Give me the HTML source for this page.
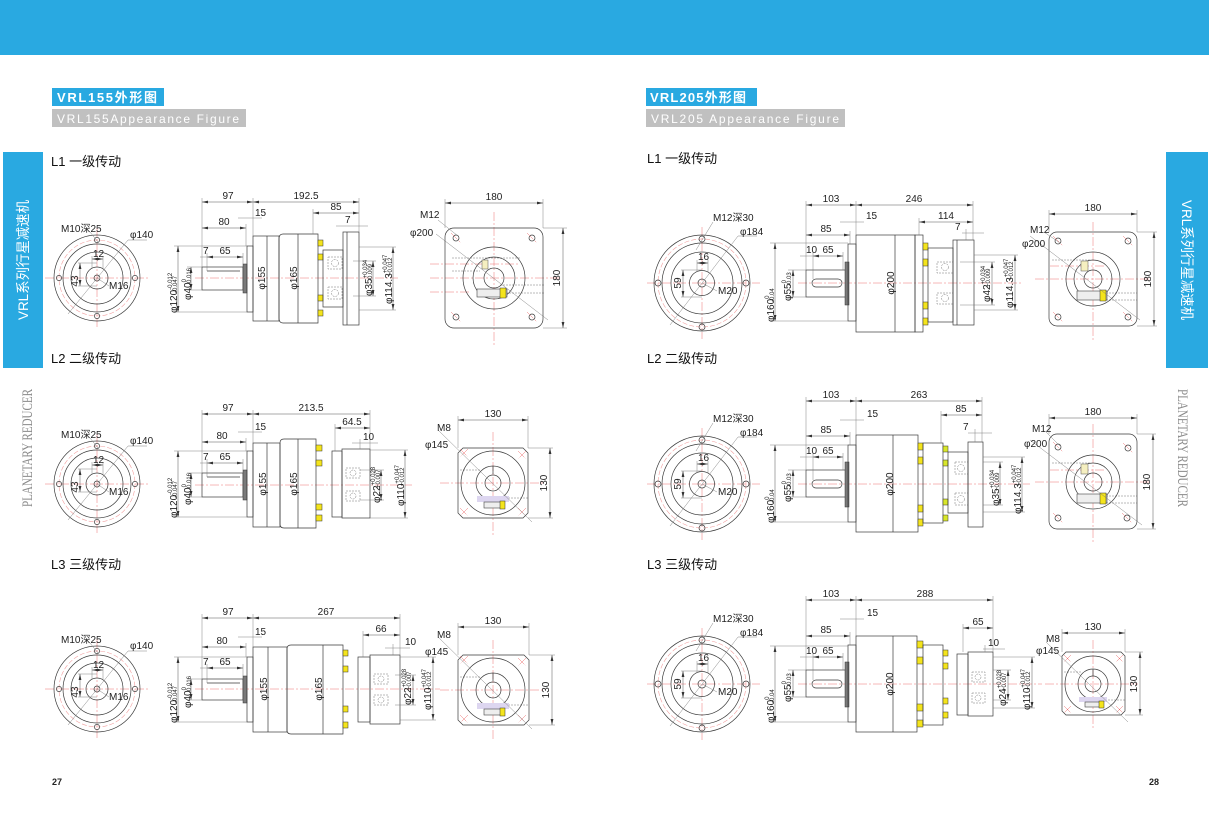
<!DOCTYPE html>
<html><head><meta charset="utf-8"><style>
html,body{margin:0;padding:0;background:#fff;}
svg{display:block;}
.l{stroke:#3a3a3a;stroke-width:.7;fill:none}
.g{stroke:#777;stroke-width:.5;fill:none;stroke-dasharray:2 1}
.dk{fill:#7a7a7a;stroke:#333;stroke-width:.5}
.y{fill:#f4e41c;stroke:#333;stroke-width:.5}
.y2{fill:#d8e62a;stroke:#333;stroke-width:.5}
.rc{stroke:#ee7070;stroke-width:.5;fill:none;stroke-dasharray:9 2 2 2}
.rp{stroke:#f2a0a0;stroke-width:.6;fill:none;stroke-dasharray:5 2}
.e{stroke:#777;stroke-width:.45;fill:none}
.d{stroke:#555;stroke-width:.5;fill:none;marker-start:url(#ar);marker-end:url(#ar)}
.t{font-family:"Liberation Sans Narrow","Liberation Sans","Noto Sans CJK SC",sans-serif;font-size:10px;fill:#222}
.c{text-anchor:middle}
.s{font-size:6px}
</style></head><body>
<svg width="1209" height="826" viewBox="0 0 1209 826" xmlns="http://www.w3.org/2000/svg">
<defs>
<marker id="ar" markerWidth="6" markerHeight="4" refX="6" refY="2" orient="auto-start-reverse" markerUnits="userSpaceOnUse"><path d="M0,0.6L6,2L0,3.4Z" fill="#333"/></marker>
<g id="cL">
<line class="rc" x1="-52" y1="0" x2="53" y2="0"/><line class="rc" x1="0" y1="-50" x2="0" y2="50"/>
<circle class="l" r="43"/><circle class="rp" r="38"/><circle class="l" r="34"/><circle class="l" r="26"/><circle class="l" r="11"/><circle class="l" r="3"/>
<circle class="l" cx="0" cy="-38" r="2.6"/><circle class="l" cx="0" cy="38" r="2.6"/><circle class="l" cx="-38" cy="0" r="2.6"/><circle class="l" cx="38" cy="0" r="2.6"/>
<line class="e" x1="-29" y1="36" x2="31" y2="-38"/><line class="e" x1="31" y1="-38" x2="50" y2="-38"/>
<line class="e" x1="-7" y1="-46" x2="1" y2="-36"/>
<line class="e" x1="0" y1="0" x2="12" y2="8"/>
<line class="e" x1="-5" y1="-22" x2="-5" y2="-10"/><line class="e" x1="6" y1="-22" x2="6" y2="-10"/>
<line class="d" x1="-5" y1="-19" x2="6" y2="-19"/>
<line class="e" x1="-19" y1="-15" x2="0" y2="-15"/><line class="e" x1="-19" y1="8" x2="0" y2="8"/>
<line class="d" x1="-17" y1="-15" x2="-17" y2="8"/>
</g>
<g id="cR">
<line class="rc" x1="-55" y1="0" x2="58" y2="0"/><line class="rc" x1="0" y1="-56" x2="0" y2="56"/>
<circle class="l" r="48"/><circle class="rp" r="44"/><circle class="l" r="40"/><circle class="l" r="31"/><circle class="l" r="12.5"/><circle class="l" r="4"/>
<circle class="l" cx="0" cy="-44" r="3"/><circle class="l" cx="0" cy="44" r="3"/><circle class="l" cx="-44" cy="0" r="3"/><circle class="l" cx="44" cy="0" r="3"/>
<line class="e" x1="-32" y1="42" x2="36" y2="-47"/><line class="e" x1="36" y1="-47" x2="55" y2="-47"/>
<line class="e" x1="11" y1="-61" x2="-6" y2="-33"/>
<line class="e" x1="0" y1="0" x2="15" y2="8"/>
<line class="e" x1="-5" y1="-23" x2="-5" y2="-11"/><line class="e" x1="6" y1="-23" x2="6" y2="-11"/>
<line class="d" x1="-5" y1="-20" x2="6" y2="-20"/>
<line class="e" x1="-21" y1="-13" x2="0" y2="-13"/><line class="e" x1="-21" y1="14" x2="0" y2="14"/>
<line class="d" x1="-19" y1="-13" x2="-19" y2="14"/>
</g>
</defs>

<!-- top bar -->
<rect x="0" y="0" width="1209" height="55" fill="#29a9e1"/>

<!-- titles -->
<rect x="52" y="88" width="112" height="18" fill="#29a9e1"/>
<text x="57" y="102" font-family="Liberation Sans,Noto Sans CJK SC,sans-serif" font-size="13" font-weight="bold" fill="#fff" textLength="100">VRL155外形图</text>
<rect x="52" y="109" width="194" height="18" fill="#c0c0c0"/>
<text x="57" y="123" font-family="Liberation Sans,sans-serif" font-size="12" fill="#fff" textLength="182">VRL155Appearance Figure</text>
<rect x="646" y="88" width="111" height="18" fill="#29a9e1"/>
<text x="650" y="102" font-family="Liberation Sans,Noto Sans CJK SC,sans-serif" font-size="13" font-weight="bold" fill="#fff" textLength="96">VRL205外形图</text>
<rect x="646" y="109" width="199" height="18" fill="#c0c0c0"/>
<text x="651" y="123" font-family="Liberation Sans,sans-serif" font-size="12" fill="#fff" textLength="188">VRL205 Appearance Figure</text>

<!-- side panels -->
<rect x="3" y="152" width="40" height="216" fill="#29a9e1"/>
<text transform="translate(28,260) rotate(-90)" text-anchor="middle" font-family="Liberation Sans,Noto Sans CJK SC,sans-serif" font-size="14" fill="#fff" textLength="120" lengthAdjust="spacingAndGlyphs">VRL系列行星减速机</text>
<text transform="translate(32,448) rotate(-90)" text-anchor="middle" font-family="Liberation Serif,serif" font-size="15" fill="#8a8a8a" textLength="118" lengthAdjust="spacingAndGlyphs">PLANETARY REDUCER</text>
<rect x="1166" y="152" width="42" height="216" fill="#29a9e1"/>
<text transform="translate(1182,260) rotate(90)" text-anchor="middle" font-family="Liberation Sans,Noto Sans CJK SC,sans-serif" font-size="14" fill="#fff" textLength="120" lengthAdjust="spacingAndGlyphs">VRL系列行星减速机</text>
<text transform="translate(1178,448) rotate(90)" text-anchor="middle" font-family="Liberation Serif,serif" font-size="15" fill="#8a8a8a" textLength="118" lengthAdjust="spacingAndGlyphs">PLANETARY REDUCER</text>

<!-- headings -->
<g font-family="Liberation Sans,Noto Sans CJK SC,sans-serif" font-size="13" fill="#111">
<text x="51" y="166">L1 一级传动</text>
<text x="51" y="363">L2 二级传动</text>
<text x="51" y="569">L3 三级传动</text>
<text x="647" y="163">L1 一级传动</text>
<text x="647" y="363">L2 二级传动</text>
<text x="647" y="569">L3 三级传动</text>
</g>
<text x="52" y="785" font-family="Liberation Sans Narrow,Liberation Sans,sans-serif" font-size="9" font-weight="bold" fill="#222">27</text>
<text x="1149" y="785" font-family="Liberation Sans Narrow,Liberation Sans,sans-serif" font-size="9" font-weight="bold" fill="#222">28</text>

<!-- ========== LEFT CIRCLES ========== -->
<use href="#cL" x="97" y="278"/>
<use href="#cL" x="97" y="484"/>
<use href="#cL" x="97" y="689"/>
<g class="t">
<g transform="translate(97,278)"><text x="-36" y="-46">M10深25</text><text x="33" y="-40">φ140</text><text x="-4" y="-21">12</text><text transform="translate(-19,3) rotate(-90)" class="c">43</text><text x="12" y="11">M16</text></g>
<g transform="translate(97,484)"><text x="-36" y="-46">M10深25</text><text x="33" y="-40">φ140</text><text x="-4" y="-21">12</text><text transform="translate(-19,3) rotate(-90)" class="c">43</text><text x="12" y="11">M16</text></g>
<g transform="translate(97,689)"><text x="-36" y="-46">M10深25</text><text x="33" y="-40">φ140</text><text x="-4" y="-21">12</text><text transform="translate(-19,3) rotate(-90)" class="c">43</text><text x="12" y="11">M16</text></g>
</g>

<!-- ========== RIGHT CIRCLES ========== -->
<use href="#cR" x="702" y="283"/>
<use href="#cR" x="702" y="484"/>
<use href="#cR" x="702" y="684"/>
<g class="t">
<g transform="translate(702,283)"><text x="11" y="-62">M12深30</text><text x="38" y="-48">φ184</text><text x="-4" y="-23">16</text><text transform="translate(-21,0) rotate(-90)" class="c">59</text><text x="16" y="11">M20</text></g>
<g transform="translate(702,484)"><text x="11" y="-62">M12深30</text><text x="38" y="-48">φ184</text><text x="-4" y="-23">16</text><text transform="translate(-21,0) rotate(-90)" class="c">59</text><text x="16" y="11">M20</text></g>
<g transform="translate(702,684)"><text x="11" y="-62">M12深30</text><text x="38" y="-48">φ184</text><text x="-4" y="-23">16</text><text transform="translate(-21,0) rotate(-90)" class="c">59</text><text x="16" y="11">M20</text></g>
</g>

<!-- ========== LEFT L1 SIDE ========== -->
<line class="rc" x1="195" y1="278" x2="398" y2="278"/>
<rect class="l" x="202" y="267" width="41" height="23"/>
<line class="l" x1="207" y1="271" x2="240" y2="271"/>
<rect class="dk" x="243" y="264" width="4" height="29"/>
<rect class="l" x="247" y="246" width="6" height="66"/>
<rect class="l" x="253" y="236" width="26" height="85"/>
<line class="l" x1="267" y1="236" x2="267" y2="321"/>
<path class="l" d="M283,234H318V323H283Q279,323 279,318V239Q279,234 283,234Z"/>
<line class="l" x1="298" y1="234" x2="298" y2="323"/>
<rect class="y" x="318" y="240" width="5" height="6"/><rect class="y" x="318" y="254" width="5" height="6"/><rect class="y" x="318" y="295" width="5" height="6"/><rect class="y" x="318" y="310" width="5" height="6"/>
<rect class="l" x="323" y="250" width="20" height="57"/>
<rect class="g" x="328" y="257" width="14" height="12"/><circle class="g" cx="335" cy="263" r="3.5"/>
<rect class="g" x="328" y="287" width="14" height="12"/><circle class="g" cx="335" cy="293" r="3.5"/>
<rect class="l" x="343" y="232" width="16" height="93"/>
<line class="l" x1="347" y1="232" x2="347" y2="325"/>
<line class="e" x1="202" y1="198" x2="202" y2="267"/><line class="e" x1="253" y1="198" x2="253" y2="236"/><line class="e" x1="359" y1="198" x2="359" y2="232"/>
<line class="d" x1="202" y1="202" x2="253" y2="202"/><line class="d" x1="253" y1="202" x2="359" y2="202"/>
<line class="e" x1="313" y1="209" x2="313" y2="234"/><line class="d" x1="313" y1="213" x2="359" y2="213"/>
<line class="e" x1="238" y1="218" x2="262" y2="218"/>
<line class="e" x1="336" y1="226" x2="368" y2="226"/>
<line class="e" x1="246" y1="224" x2="246" y2="246"/><line class="d" x1="202" y1="228" x2="246" y2="228"/>
<line class="e" x1="207" y1="253" x2="207" y2="271"/><line class="e" x1="243" y1="253" x2="243" y2="264"/><line class="d" x1="207" y1="257" x2="243" y2="257"/><line class="e" x1="200" y1="257" x2="207" y2="257"/>
<line class="e" x1="174" y1="246" x2="247" y2="246"/><line class="e" x1="174" y1="312" x2="247" y2="312"/><line class="d" x1="178" y1="246" x2="178" y2="312"/>
<line class="e" x1="187" y1="267" x2="202" y2="267"/><line class="e" x1="187" y1="290" x2="202" y2="290"/><line class="d" x1="191" y1="267" x2="191" y2="290"/>
<line class="e" x1="353" y1="261" x2="376" y2="261"/><line class="e" x1="353" y1="296" x2="376" y2="296"/><line class="d" x1="373" y1="261" x2="373" y2="296"/>
<line class="e" x1="359" y1="247" x2="396" y2="247"/><line class="e" x1="359" y1="310" x2="396" y2="310"/><line class="d" x1="393" y1="247" x2="393" y2="310"/>
<g class="t">
<text x="228" y="199" class="c">97</text><text x="306" y="199" class="c">192.5</text><text x="336" y="210" class="c">85</text>
<text x="255" y="216">15</text><text x="345" y="223">7</text><text x="224" y="225" class="c">80</text>
<text x="203" y="254">7</text><text x="225" y="254" class="c">65</text>
<text transform="translate(177,313) rotate(-90)">φ120<tspan class="s" dy="-5">-0.012</tspan><tspan class="s" x="20" dy="5">-0.047</tspan></text>
<text transform="translate(191,300) rotate(-90)">φ40<tspan class="s" dy="-5">0</tspan><tspan class="s" x="15" dy="5">-0.016</tspan></text>
<text transform="translate(265,278) rotate(-90)" class="c">φ155</text>
<text transform="translate(297,278) rotate(-90)" class="c">φ165</text>
<text transform="translate(372,296) rotate(-90)">φ35<tspan class="s" dy="-5">+0.034</tspan><tspan class="s" x="15" dy="5">-0.009</tspan></text>
<text transform="translate(392,304) rotate(-90)">φ114.3<tspan class="s" dy="-5">+0.047</tspan><tspan class="s" x="28" dy="5">+0.012</tspan></text>
</g>

<!-- ========== LEFT L2 SIDE ========== -->
<line class="rc" x1="195" y1="485" x2="412" y2="485"/>
<rect class="l" x="202" y="473" width="41" height="24"/>
<line class="l" x1="207" y1="477" x2="240" y2="477"/>
<rect class="dk" x="243" y="470" width="4" height="30"/>
<rect class="l" x="247" y="451" width="6" height="66"/>
<rect class="l" x="253" y="443" width="27" height="84"/>
<line class="l" x1="267" y1="443" x2="267" y2="527"/>
<path class="l" d="M284,439H316V528H284Q280,528 280,524V443Q280,439 284,439Z"/>
<line class="l" x1="298" y1="439" x2="298" y2="528"/>
<rect class="y" x="316" y="445" width="6" height="6"/><rect class="y" x="316" y="460" width="6" height="6"/><rect class="y" x="316" y="504" width="6" height="6"/><rect class="y" x="316" y="515" width="6" height="6"/>
<rect class="l" x="332" y="451" width="10" height="66"/>
<rect class="l" x="342" y="449" width="28" height="69"/>
<rect class="g" x="346" y="468" width="14" height="10"/><circle class="g" cx="353" cy="473" r="3"/>
<rect class="g" x="346" y="491" width="14" height="10"/><circle class="g" cx="353" cy="496" r="3"/>
<line class="e" x1="202" y1="410" x2="202" y2="473"/><line class="e" x1="253" y1="410" x2="253" y2="443"/><line class="e" x1="370" y1="410" x2="370" y2="449"/>
<line class="d" x1="202" y1="414" x2="253" y2="414"/><line class="d" x1="253" y1="414" x2="370" y2="414"/>
<line class="e" x1="335" y1="424" x2="335" y2="451"/><line class="d" x1="335" y1="428" x2="370" y2="428"/>
<line class="e" x1="238" y1="432" x2="262" y2="432"/>
<line class="e" x1="360" y1="439" x2="360" y2="449"/><line class="e" x1="352" y1="443" x2="378" y2="443"/>
<line class="e" x1="246" y1="438" x2="246" y2="451"/><line class="d" x1="202" y1="442" x2="246" y2="442"/>
<line class="e" x1="207" y1="459" x2="207" y2="477"/><line class="e" x1="243" y1="459" x2="243" y2="470"/><line class="d" x1="207" y1="463" x2="243" y2="463"/><line class="e" x1="200" y1="463" x2="207" y2="463"/>
<line class="e" x1="174" y1="451" x2="247" y2="451"/><line class="e" x1="174" y1="517" x2="247" y2="517"/><line class="d" x1="178" y1="451" x2="178" y2="517"/>
<line class="e" x1="187" y1="473" x2="202" y2="473"/><line class="e" x1="187" y1="497" x2="202" y2="497"/><line class="d" x1="191" y1="473" x2="191" y2="497"/>
<line class="e" x1="360" y1="470" x2="384" y2="470"/><line class="e" x1="360" y1="500" x2="384" y2="500"/><line class="d" x1="381" y1="470" x2="381" y2="500"/>
<line class="e" x1="370" y1="450" x2="408" y2="450"/><line class="e" x1="370" y1="518" x2="408" y2="518"/><line class="d" x1="405" y1="450" x2="405" y2="518"/>
<g class="t">
<text x="228" y="411" class="c">97</text><text x="311" y="411" class="c">213.5</text><text x="352" y="425" class="c">64.5</text>
<text x="255" y="430">15</text><text x="363" y="440">10</text><text x="222" y="439" class="c">80</text>
<text x="203" y="460">7</text><text x="225" y="460" class="c">65</text>
<text transform="translate(177,518) rotate(-90)">φ120<tspan class="s" dy="-5">-0.012</tspan><tspan class="s" x="20" dy="5">-0.047</tspan></text>
<text transform="translate(191,505) rotate(-90)">φ40<tspan class="s" dy="-5">0</tspan><tspan class="s" x="15" dy="5">-0.016</tspan></text>
<text transform="translate(266,484) rotate(-90)" class="c">φ155</text>
<text transform="translate(297,484) rotate(-90)" class="c">φ165</text>
<text transform="translate(380,503) rotate(-90)">φ22<tspan class="s" dy="-5">+0.028</tspan><tspan class="s" x="15" dy="5">+0.007</tspan></text>
<text transform="translate(404,506) rotate(-90)">φ110<tspan class="s" dy="-5">+0.047</tspan><tspan class="s" x="20" dy="5">+0.012</tspan></text>
</g>

<!-- ========== LEFT L3 SIDE ========== -->
<line class="rc" x1="195" y1="689" x2="440" y2="689"/>
<rect class="l" x="202" y="679" width="41" height="21"/>
<line class="l" x1="207" y1="683" x2="240" y2="683"/>
<rect class="dk" x="243" y="676" width="4" height="27"/>
<rect class="l" x="247" y="657" width="6" height="65"/>
<rect class="l" x="253" y="647" width="34" height="85"/>
<line class="l" x1="268" y1="647" x2="268" y2="732"/>
<path class="l" d="M291,645H343V734H291Q287,734 287,730V649Q287,645 291,645Z"/>
<line class="l" x1="323" y1="645" x2="323" y2="734"/>
<rect class="y" x="343" y="650" width="5" height="6"/><rect class="y" x="343" y="666" width="5" height="6"/><rect class="y" x="343" y="706" width="5" height="6"/><rect class="y" x="343" y="722" width="5" height="6"/>
<rect class="l" x="358" y="657" width="12" height="65" stroke-width="1.1"/>
<rect class="l" x="370" y="655" width="30" height="69"/>
<rect class="g" x="374" y="674" width="14" height="10"/><circle class="g" cx="381" cy="679" r="3"/>
<rect class="g" x="374" y="695" width="14" height="10"/><circle class="g" cx="381" cy="700" r="3"/>
<line class="e" x1="202" y1="614" x2="202" y2="679"/><line class="e" x1="253" y1="614" x2="253" y2="647"/><line class="e" x1="400" y1="614" x2="400" y2="655"/>
<line class="d" x1="202" y1="618" x2="253" y2="618"/><line class="d" x1="253" y1="618" x2="400" y2="618"/>
<line class="e" x1="363" y1="631" x2="363" y2="657"/><line class="d" x1="363" y1="635" x2="400" y2="635"/>
<line class="e" x1="238" y1="637" x2="262" y2="637"/>
<line class="e" x1="393" y1="644" x2="393" y2="655"/><line class="e" x1="385" y1="648" x2="410" y2="648"/>
<line class="e" x1="246" y1="643" x2="246" y2="657"/><line class="d" x1="202" y1="647" x2="246" y2="647"/>
<line class="e" x1="207" y1="664" x2="207" y2="683"/><line class="e" x1="243" y1="664" x2="243" y2="676"/><line class="d" x1="207" y1="668" x2="243" y2="668"/><line class="e" x1="200" y1="668" x2="207" y2="668"/>
<line class="e" x1="174" y1="657" x2="247" y2="657"/><line class="e" x1="174" y1="722" x2="247" y2="722"/><line class="d" x1="178" y1="657" x2="178" y2="722"/>
<line class="e" x1="187" y1="679" x2="202" y2="679"/><line class="e" x1="187" y1="700" x2="202" y2="700"/><line class="d" x1="191" y1="679" x2="191" y2="700"/>
<line class="e" x1="395" y1="675" x2="416" y2="675"/><line class="e" x1="395" y1="705" x2="416" y2="705"/><line class="d" x1="413" y1="675" x2="413" y2="705"/>
<line class="e" x1="400" y1="657" x2="436" y2="657"/><line class="e" x1="400" y1="720" x2="436" y2="720"/><line class="d" x1="433" y1="657" x2="433" y2="720"/>
<g class="t">
<text x="228" y="615" class="c">97</text><text x="326" y="615" class="c">267</text><text x="381" y="632" class="c">66</text>
<text x="255" y="635">15</text><text x="405" y="645">10</text><text x="222" y="644" class="c">80</text>
<text x="203" y="665">7</text><text x="225" y="665" class="c">65</text>
<text transform="translate(177,723) rotate(-90)">φ120<tspan class="s" dy="-5">-0.012</tspan><tspan class="s" x="20" dy="5">-0.047</tspan></text>
<text transform="translate(191,708) rotate(-90)">φ40<tspan class="s" dy="-5">0</tspan><tspan class="s" x="15" dy="5">-0.016</tspan></text>
<text transform="translate(267,689) rotate(-90)" class="c">φ155</text>
<text transform="translate(322,689) rotate(-90)" class="c">φ165</text>
<text transform="translate(411,705) rotate(-90)">φ22<tspan class="s" dy="-5">+0.028</tspan><tspan class="s" x="15" dy="5">+0.007</tspan></text>
<text transform="translate(431,710) rotate(-90)">φ110<tspan class="s" dy="-5">+0.047</tspan><tspan class="s" x="20" dy="5">+0.012</tspan></text>
</g>

<!-- ========== LEFT SQUARES ========== -->
<!-- L1 -->
<line class="e" x1="445" y1="199" x2="445" y2="228"/><line class="e" x1="543" y1="199" x2="543" y2="228"/><line class="d" x1="445" y1="203" x2="543" y2="203"/>
<line class="e" x1="543" y1="228" x2="567" y2="228"/><line class="e" x1="543" y1="328" x2="567" y2="328"/><line class="d" x1="563" y1="228" x2="563" y2="328"/>
<line class="rc" x1="494" y1="212" x2="494" y2="345"/><line class="rc" x1="430" y1="278" x2="560" y2="278"/>
<line class="rc" x1="430" y1="264" x2="520" y2="264"/><line class="rc" x1="430" y1="292" x2="470" y2="292"/>
<line class="g" x1="452" y1="258" x2="520" y2="258"/><line class="g" x1="452" y1="271" x2="480" y2="271"/><line class="g" x1="500" y1="285" x2="545" y2="285"/><line class="g" x1="500" y1="293" x2="545" y2="293"/>
<rect class="l" x="445" y="228" width="98" height="100" rx="9"/>
<circle class="l" cx="494" cy="278" r="31"/><circle class="l" cx="494" cy="278" r="21"/><circle class="l" cx="494" cy="278" r="10"/>
<circle class="l" cx="456" cy="238" r="3"/><circle class="l" cx="532" cy="238" r="3"/><circle class="l" cx="456" cy="317" r="3"/><circle class="l" cx="532" cy="317" r="3"/>
<path class="rc" d="M451,233l10,10M527,233l10,10M451,312l10,10M527,312l10,10" stroke-dasharray="none"/>
<rect x="482" y="260" width="6" height="9" fill="#f5efc0" stroke="#555" stroke-width=".5"/>
<rect x="477" y="289" width="30" height="8" fill="#eee" stroke="#444" stroke-width=".6"/><rect class="y" x="500" y="288" width="6" height="10"/>
<line class="e" x1="436" y1="234" x2="548" y2="320"/><line class="e" x1="438" y1="220" x2="458" y2="236"/>
<g class="t"><text x="494" y="200" class="c">180</text><text transform="translate(560,278) rotate(-90)" class="c">180</text><text x="420" y="218">M12</text><text x="410" y="236">φ200</text></g>
<!-- L2 -->
<line class="e" x1="458" y1="416" x2="458" y2="448"/><line class="e" x1="528" y1="416" x2="528" y2="448"/><line class="d" x1="458" y1="420" x2="528" y2="420"/>
<line class="e" x1="528" y1="448" x2="553" y2="448"/><line class="e" x1="528" y1="518" x2="553" y2="518"/><line class="d" x1="550" y1="448" x2="550" y2="518"/>
<line class="rc" x1="493" y1="432" x2="493" y2="535"/><line class="rc" x1="440" y1="483" x2="545" y2="483"/>
<line class="g" x1="460" y1="470" x2="480" y2="470"/><line class="g" x1="505" y1="498" x2="528" y2="498"/>
<path class="l" d="M463,448H523L528,453V513L523,518H463L458,513V453Z"/>
<circle class="l" cx="493" cy="483" r="32"/><circle class="l" cx="493" cy="483" r="17"/><circle class="l" cx="493" cy="483" r="8"/>
<path class="rc" d="M460,449l8,8M468,449l-8,8M518,451l8,8M526,451l-8,8M460,508l8,8M468,508l-8,8M518,508l8,8M526,508l-8,8" stroke-dasharray="none"/>
<rect x="477" y="496" width="32" height="6" fill="#ddd6f0" stroke="none"/>
<rect x="484" y="502" width="20" height="6" fill="#eee" stroke="#444" stroke-width=".6"/><rect class="y" x="500" y="501" width="5" height="8"/>
<line class="l" x1="493" y1="466" x2="493" y2="474"/>
<line class="e" x1="438" y1="430" x2="532" y2="522"/>
<g class="t"><text x="493" y="417" class="c">130</text><text transform="translate(547,483) rotate(-90)" class="c">130</text><text x="437" y="431">M8</text><text x="425" y="448">φ145</text></g>
<!-- L3 -->
<line class="e" x1="458" y1="623" x2="458" y2="655"/><line class="e" x1="529" y1="623" x2="529" y2="655"/><line class="d" x1="458" y1="627" x2="529" y2="627"/>
<line class="e" x1="529" y1="655" x2="555" y2="655"/><line class="e" x1="529" y1="725" x2="555" y2="725"/><line class="d" x1="552" y1="655" x2="552" y2="725"/>
<line class="rc" x1="493" y1="640" x2="493" y2="740"/><line class="rc" x1="440" y1="690" x2="545" y2="690"/>
<line class="g" x1="460" y1="677" x2="480" y2="677"/><line class="g" x1="505" y1="705" x2="529" y2="705"/>
<path class="l" d="M463,655H524L529,660V720L524,725H463L458,720V660Z"/>
<circle class="l" cx="493" cy="690" r="32"/><circle class="l" cx="493" cy="690" r="17"/><circle class="l" cx="493" cy="690" r="8"/>
<path class="rc" d="M460,656l8,8M468,656l-8,8M518,658l8,8M526,658l-8,8M460,715l8,8M468,715l-8,8M518,715l8,8M526,715l-8,8" stroke-dasharray="none"/>
<rect x="477" y="703" width="32" height="6" fill="#ddd6f0" stroke="none"/>
<rect x="484" y="709" width="20" height="6" fill="#eee" stroke="#444" stroke-width=".6"/><rect class="y" x="500" y="708" width="5" height="8"/>
<line class="l" x1="493" y1="673" x2="493" y2="681"/>
<line class="e" x1="438" y1="637" x2="532" y2="729"/>
<g class="t"><text x="493" y="624" class="c">130</text><text transform="translate(549,690) rotate(-90)" class="c">130</text><text x="437" y="638">M8</text><text x="425" y="655">φ145</text></g>

<!-- ========== RIGHT L1 SIDE ========== -->
<line class="rc" x1="798" y1="283" x2="1022" y2="283"/>
<rect class="l" x="806" y="270" width="41" height="27"/>
<rect class="l" x="812" y="279" width="30" height="8" rx="4"/>
<rect class="dk" x="845" y="262" width="4" height="43"/>
<rect class="l" x="848" y="244" width="8" height="77"/>
<rect class="l" x="856" y="235" width="59" height="97"/>
<line class="l" x1="895" y1="235" x2="895" y2="332"/>
<rect class="l" x="915" y="235" width="8" height="97"/>
<rect class="y" x="923" y="243" width="5" height="7"/><rect class="y" x="923" y="259" width="5" height="7"/><rect class="y" x="923" y="302" width="5" height="7"/><rect class="y" x="923" y="318" width="5" height="7"/>
<rect class="l" x="928" y="248" width="25" height="74"/>
<rect class="g" x="937" y="262" width="16" height="11"/><circle class="g" cx="945" cy="267" r="3.5"/>
<rect class="g" x="937" y="293" width="16" height="11"/><circle class="g" cx="945" cy="298" r="3.5"/>
<rect class="l" x="953" y="240" width="21" height="85"/>
<line class="l" x1="957" y1="240" x2="957" y2="325"/>
<line class="e" x1="806" y1="201" x2="806" y2="270"/><line class="e" x1="856" y1="201" x2="856" y2="235"/><line class="e" x1="973" y1="201" x2="973" y2="240"/>
<line class="d" x1="806" y1="205" x2="856" y2="205"/><line class="d" x1="856" y1="205" x2="973" y2="205"/>
<line class="e" x1="919" y1="218" x2="919" y2="235"/><line class="d" x1="919" y1="222" x2="973" y2="222"/>
<line class="e" x1="840" y1="222" x2="864" y2="222"/>
<line class="e" x1="850" y1="231" x2="850" y2="244"/><line class="d" x1="806" y1="235" x2="850" y2="235"/>
<line class="e" x1="962" y1="233" x2="984" y2="233"/><line class="e" x1="966" y1="229" x2="966" y2="240"/>
<line class="e" x1="813" y1="252" x2="813" y2="279"/><line class="e" x1="843" y1="252" x2="843" y2="270"/><line class="d" x1="813" y1="256" x2="843" y2="256"/><line class="e" x1="800" y1="256" x2="813" y2="256"/>
<line class="e" x1="770" y1="243" x2="848" y2="243"/><line class="e" x1="770" y1="321" x2="848" y2="321"/><line class="d" x1="775" y1="243" x2="775" y2="321"/>
<line class="e" x1="788" y1="270" x2="806" y2="270"/><line class="e" x1="788" y1="297" x2="806" y2="297"/><line class="d" x1="793" y1="270" x2="793" y2="297"/>
<line class="e" x1="960" y1="262" x2="995" y2="262"/><line class="e" x1="960" y1="305" x2="995" y2="305"/><line class="d" x1="992" y1="262" x2="992" y2="305"/>
<line class="e" x1="974" y1="255" x2="1018" y2="255"/><line class="e" x1="974" y1="310" x2="1018" y2="310"/><line class="d" x1="1015" y1="255" x2="1015" y2="310"/>
<g class="t">
<text x="831" y="202" class="c">103</text><text x="914" y="202" class="c">246</text><text x="946" y="219" class="c">114</text>
<text x="866" y="219">15</text><text x="826" y="232" class="c">85</text><text x="955" y="230">7</text>
<text x="806" y="253">10</text><text x="828" y="253" class="c">65</text>
<text transform="translate(774,322) rotate(-90)">φ160<tspan class="s" dy="-5">0</tspan><tspan class="s" x="20" dy="5">-0.04</tspan></text>
<text transform="translate(791,301) rotate(-90)">φ55<tspan class="s" dy="-5">0</tspan><tspan class="s" x="15" dy="5">-0.03</tspan></text>
<text transform="translate(894,283) rotate(-90)" class="c">φ200</text>
<text transform="translate(990,302) rotate(-90)">φ42<tspan class="s" dy="-5">+0.034</tspan><tspan class="s" x="15" dy="5">+0.009</tspan></text>
<text transform="translate(1013,308) rotate(-90)">φ114.3<tspan class="s" dy="-5">+0.047</tspan><tspan class="s" x="28" dy="5">+0.012</tspan></text>
</g>

<!-- ========== RIGHT L2 SIDE ========== -->
<line class="rc" x1="798" y1="484" x2="1030" y2="484"/>
<rect class="l" x="806" y="470" width="41" height="27"/>
<rect class="l" x="812" y="480" width="30" height="8" rx="4"/>
<rect class="dk" x="845" y="462" width="4" height="45"/>
<rect class="l" x="848" y="445" width="8" height="77"/>
<rect class="l" x="856" y="435" width="62" height="97"/>
<line class="l" x1="893" y1="435" x2="893" y2="532"/>
<rect class="y" x="918" y="443" width="5" height="7"/><rect class="y" x="918" y="457" width="5" height="7"/><rect class="y" x="918" y="505" width="5" height="7"/><rect class="y" x="918" y="519" width="5" height="7"/>
<rect class="l" x="923" y="443" width="20" height="80"/>
<rect class="y2" x="943" y="446" width="5" height="6"/><rect class="y2" x="943" y="460" width="5" height="6"/><rect class="y2" x="943" y="499" width="5" height="6"/><rect class="y2" x="943" y="515" width="5" height="6"/>
<rect class="l" x="948" y="452" width="20" height="61"/>
<rect class="g" x="955" y="462" width="13" height="12"/><circle class="g" cx="961" cy="468" r="3.5"/>
<rect class="g" x="955" y="493" width="13" height="12"/><circle class="g" cx="961" cy="499" r="3.5"/>
<rect class="l" x="968" y="442" width="15" height="85"/>
<line class="e" x1="806" y1="397" x2="806" y2="470"/><line class="e" x1="856" y1="397" x2="856" y2="435"/><line class="e" x1="982" y1="397" x2="982" y2="442"/>
<line class="d" x1="806" y1="401" x2="856" y2="401"/><line class="d" x1="856" y1="401" x2="982" y2="401"/>
<line class="e" x1="941" y1="411" x2="941" y2="443"/><line class="d" x1="941" y1="415" x2="982" y2="415"/>
<line class="e" x1="840" y1="420" x2="864" y2="420"/>
<line class="e" x1="850" y1="432" x2="850" y2="445"/><line class="d" x1="806" y1="436" x2="850" y2="436"/>
<line class="e" x1="968" y1="433" x2="992" y2="433"/><line class="e" x1="975" y1="429" x2="975" y2="442"/>
<line class="e" x1="813" y1="453" x2="813" y2="480"/><line class="e" x1="843" y1="453" x2="843" y2="470"/><line class="d" x1="813" y1="457" x2="843" y2="457"/><line class="e" x1="800" y1="457" x2="813" y2="457"/>
<line class="e" x1="770" y1="445" x2="848" y2="445"/><line class="e" x1="770" y1="522" x2="848" y2="522"/><line class="d" x1="775" y1="445" x2="775" y2="522"/>
<line class="e" x1="788" y1="470" x2="806" y2="470"/><line class="e" x1="788" y1="497" x2="806" y2="497"/><line class="d" x1="793" y1="470" x2="793" y2="497"/>
<line class="e" x1="983" y1="462" x2="1003" y2="462"/><line class="e" x1="983" y1="505" x2="1003" y2="505"/><line class="d" x1="1000" y1="462" x2="1000" y2="505"/>
<line class="e" x1="983" y1="457" x2="1025" y2="457"/><line class="e" x1="983" y1="512" x2="1025" y2="512"/><line class="d" x1="1022" y1="457" x2="1022" y2="512"/>
<g class="t">
<text x="831" y="398" class="c">103</text><text x="919" y="398" class="c">263</text><text x="961" y="412" class="c">85</text>
<text x="867" y="417">15</text><text x="826" y="433" class="c">85</text><text x="963" y="430">7</text>
<text x="806" y="454">10</text><text x="828" y="454" class="c">65</text>
<text transform="translate(774,523) rotate(-90)">φ160<tspan class="s" dy="-5">0</tspan><tspan class="s" x="20" dy="5">-0.04</tspan></text>
<text transform="translate(791,502) rotate(-90)">φ55<tspan class="s" dy="-5">0</tspan><tspan class="s" x="15" dy="5">-0.03</tspan></text>
<text transform="translate(893,484) rotate(-90)" class="c">φ200</text>
<text transform="translate(999,506) rotate(-90)">φ35<tspan class="s" dy="-5">+0.034</tspan><tspan class="s" x="15" dy="5">+0.009</tspan></text>
<text transform="translate(1021,514) rotate(-90)">φ114.3<tspan class="s" dy="-5">+0.047</tspan><tspan class="s" x="28" dy="5">+0.012</tspan></text>
</g>

<!-- ========== RIGHT L3 SIDE ========== -->
<line class="rc" x1="798" y1="684" x2="1042" y2="684"/>
<rect class="l" x="806" y="670" width="41" height="27"/>
<rect class="l" x="812" y="680" width="30" height="8" rx="4"/>
<rect class="dk" x="845" y="662" width="4" height="45"/>
<rect class="l" x="848" y="645" width="8" height="77"/>
<rect class="l" x="856" y="636" width="61" height="96"/>
<line class="l" x1="893" y1="636" x2="893" y2="732"/>
<rect class="y" x="917" y="641" width="6" height="7"/><rect class="y" x="917" y="657" width="6" height="7"/><rect class="y" x="917" y="704" width="6" height="7"/><rect class="y" x="917" y="720" width="6" height="7"/>
<rect class="l" x="923" y="645" width="20" height="80"/>
<rect class="y" x="943" y="650" width="5" height="6"/><rect class="y" x="943" y="663" width="5" height="6"/><rect class="y" x="943" y="698" width="5" height="6"/><rect class="y" x="943" y="712" width="5" height="6"/>
<rect class="l" x="957" y="654" width="11" height="61" stroke-width="1.1"/>
<rect class="l" x="968" y="652" width="25" height="64"/>
<rect class="g" x="972" y="672" width="13" height="10"/><circle class="g" cx="978" cy="677" r="3"/>
<rect class="g" x="972" y="693" width="13" height="10"/><circle class="g" cx="978" cy="698" r="3"/>
<line class="e" x1="806" y1="596" x2="806" y2="670"/><line class="e" x1="856" y1="596" x2="856" y2="636"/><line class="e" x1="993" y1="596" x2="993" y2="652"/>
<line class="d" x1="806" y1="600" x2="856" y2="600"/><line class="d" x1="856" y1="600" x2="993" y2="600"/>
<line class="e" x1="963" y1="624" x2="963" y2="652"/><line class="d" x1="963" y1="628" x2="993" y2="628"/>
<line class="e" x1="840" y1="619" x2="864" y2="619"/>
<line class="e" x1="850" y1="632" x2="850" y2="645"/><line class="d" x1="806" y1="636" x2="850" y2="636"/>
<line class="e" x1="983" y1="649" x2="1005" y2="649"/><line class="e" x1="985" y1="645" x2="985" y2="652"/>
<line class="e" x1="813" y1="653" x2="813" y2="680"/><line class="e" x1="843" y1="653" x2="843" y2="670"/><line class="d" x1="813" y1="657" x2="843" y2="657"/><line class="e" x1="800" y1="657" x2="813" y2="657"/>
<line class="e" x1="770" y1="646" x2="848" y2="646"/><line class="e" x1="770" y1="722" x2="848" y2="722"/><line class="d" x1="775" y1="646" x2="775" y2="722"/>
<line class="e" x1="788" y1="670" x2="806" y2="670"/><line class="e" x1="788" y1="697" x2="806" y2="697"/><line class="d" x1="793" y1="670" x2="793" y2="697"/>
<line class="e" x1="993" y1="670" x2="1011" y2="670"/><line class="e" x1="993" y1="700" x2="1011" y2="700"/><line class="d" x1="1008" y1="670" x2="1008" y2="700"/>
<line class="e" x1="993" y1="657" x2="1035" y2="657"/><line class="e" x1="993" y1="708" x2="1035" y2="708"/><line class="d" x1="1032" y1="657" x2="1032" y2="708"/>
<g class="t">
<text x="831" y="597" class="c">103</text><text x="925" y="597" class="c">288</text><text x="978" y="625" class="c">65</text>
<text x="867" y="616">15</text><text x="826" y="633" class="c">85</text><text x="988" y="646">10</text>
<text x="806" y="654">10</text><text x="828" y="654" class="c">65</text>
<text transform="translate(774,723) rotate(-90)">φ160<tspan class="s" dy="-5">0</tspan><tspan class="s" x="20" dy="5">-0.04</tspan></text>
<text transform="translate(791,702) rotate(-90)">φ55<tspan class="s" dy="-5">0</tspan><tspan class="s" x="15" dy="5">-0.03</tspan></text>
<text transform="translate(893,684) rotate(-90)" class="c">φ200</text>
<text transform="translate(1006,706) rotate(-90)">φ24<tspan class="s" dy="-5">+0.028</tspan><tspan class="s" x="15" dy="5">+0.007</tspan></text>
<text transform="translate(1030,710) rotate(-90)">φ110<tspan class="s" dy="-5">+0.047</tspan><tspan class="s" x="20" dy="5">+0.012</tspan></text>
</g>

<!-- ========== RIGHT SQUARES ========== -->
<!-- R L1 -->
<line class="e" x1="1049" y1="210" x2="1049" y2="232"/><line class="e" x1="1137" y1="210" x2="1137" y2="232"/><line class="d" x1="1049" y1="214" x2="1137" y2="214"/>
<line class="e" x1="1137" y1="232" x2="1157" y2="232"/><line class="e" x1="1137" y1="326" x2="1157" y2="326"/><line class="d" x1="1154" y1="232" x2="1154" y2="326"/>
<line class="rc" x1="1093" y1="222" x2="1093" y2="340"/><line class="rc" x1="1035" y1="279" x2="1150" y2="279"/>
<line class="rc" x1="1050" y1="266" x2="1105" y2="266"/><line class="g" x1="1052" y1="260" x2="1090" y2="260"/><line class="g" x1="1100" y1="293" x2="1137" y2="293"/><line class="g" x1="1100" y1="300" x2="1137" y2="300"/>
<rect class="l" x="1049" y="232" width="88" height="94" rx="8"/>
<circle class="l" cx="1093" cy="279" r="27"/><circle class="l" cx="1093" cy="279" r="19"/><circle class="l" cx="1093" cy="279" r="9"/>
<circle class="l" cx="1058" cy="241" r="3"/><circle class="l" cx="1128" cy="241" r="3"/><circle class="l" cx="1058" cy="317" r="3"/><circle class="l" cx="1128" cy="317" r="3"/>
<path class="rc" d="M1053,236l10,10M1123,236l10,10M1053,312l10,10M1123,312l10,10" stroke-dasharray="none"/>
<rect x="1081" y="261" width="7" height="10" fill="#f5efc0" stroke="#555" stroke-width=".5"/>
<rect x="1077" y="291" width="30" height="9" fill="#eee" stroke="#444" stroke-width=".6"/><rect class="y" x="1100" y="290" width="6" height="11"/>
<line class="e" x1="1030" y1="236" x2="1140" y2="320"/><line class="e" x1="1044" y1="232" x2="1060" y2="243"/>
<g class="t"><text x="1093" y="211" class="c">180</text><text transform="translate(1151,279) rotate(-90)" class="c">180</text><text x="1030" y="233">M12</text><text x="1022" y="247">φ200</text></g>
<!-- R L2 -->
<line class="e" x1="1049" y1="414" x2="1049" y2="434"/><line class="e" x1="1137" y1="414" x2="1137" y2="434"/><line class="d" x1="1049" y1="418" x2="1137" y2="418"/>
<line class="e" x1="1137" y1="434" x2="1156" y2="434"/><line class="e" x1="1137" y1="529" x2="1156" y2="529"/><line class="d" x1="1153" y1="434" x2="1153" y2="529"/>
<line class="rc" x1="1093" y1="424" x2="1093" y2="542"/><line class="rc" x1="1035" y1="482" x2="1150" y2="482"/>
<line class="rc" x1="1050" y1="470" x2="1105" y2="470"/><line class="g" x1="1052" y1="463" x2="1090" y2="463"/><line class="g" x1="1100" y1="496" x2="1137" y2="496"/><line class="g" x1="1100" y1="503" x2="1137" y2="503"/>
<rect class="l" x="1049" y="434" width="88" height="95" rx="8"/>
<circle class="l" cx="1093" cy="482" r="27"/><circle class="l" cx="1093" cy="482" r="19"/><circle class="l" cx="1093" cy="482" r="9"/>
<circle class="l" cx="1058" cy="447" r="3"/><circle class="l" cx="1128" cy="448" r="3"/><circle class="l" cx="1058" cy="518" r="3"/><circle class="l" cx="1127" cy="518" r="3"/>
<path class="rc" d="M1053,442l10,10M1123,443l10,10M1053,513l10,10M1122,513l10,10" stroke-dasharray="none"/>
<rect x="1081" y="464" width="7" height="10" fill="#f5efc0" stroke="#555" stroke-width=".5"/>
<rect x="1077" y="494" width="30" height="9" fill="#eee" stroke="#444" stroke-width=".6"/><rect class="y" x="1100" y="493" width="6" height="11"/>
<line class="e" x1="1030" y1="440" x2="1142" y2="525"/><line class="e" x1="1046" y1="432" x2="1060" y2="446"/>
<g class="t"><text x="1093" y="415" class="c">180</text><text transform="translate(1150,482) rotate(-90)" class="c">180</text><text x="1032" y="432">M12</text><text x="1024" y="447">φ200</text></g>
<!-- R L3 -->
<line class="e" x1="1062" y1="629" x2="1062" y2="652"/><line class="e" x1="1125" y1="629" x2="1125" y2="652"/><line class="d" x1="1062" y1="633" x2="1125" y2="633"/>
<line class="e" x1="1125" y1="652" x2="1143" y2="652"/><line class="e" x1="1125" y1="715" x2="1143" y2="715"/><line class="d" x1="1140" y1="652" x2="1140" y2="715"/>
<line class="rc" x1="1093" y1="640" x2="1093" y2="728"/><line class="rc" x1="1045" y1="684" x2="1138" y2="684"/>
<line class="g" x1="1064" y1="672" x2="1082" y2="672"/><line class="g" x1="1105" y1="700" x2="1125" y2="700"/>
<path class="l" d="M1066,652H1121L1125,656V711L1121,715H1066L1062,711V656Z"/>
<circle class="l" cx="1093" cy="684" r="28"/><circle class="l" cx="1093" cy="684" r="15"/><circle class="l" cx="1093" cy="684" r="8"/>
<path class="rc" d="M1064,655l7,7M1071,655l-7,7M1116,655l7,7M1123,655l-7,7M1064,706l7,7M1071,706l-7,7M1116,706l7,7M1123,706l-7,7" stroke-dasharray="none"/>
<rect x="1079" y="697" width="28" height="5" fill="#ddd6f0" stroke="none"/>
<rect x="1085" y="702" width="18" height="5" fill="#eee" stroke="#444" stroke-width=".6"/><rect class="y" x="1099" y="701" width="5" height="7"/>
<line class="l" x1="1093" y1="669" x2="1093" y2="676"/>
<line class="e" x1="1046" y1="642" x2="1128" y2="722"/>
<g class="t"><text x="1093" y="630" class="c">130</text><text transform="translate(1137,684) rotate(-90)" class="c">130</text><text x="1046" y="642">M8</text><text x="1036" y="654">φ145</text></g>
</svg>
</body></html>
